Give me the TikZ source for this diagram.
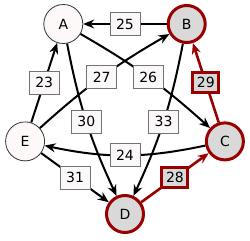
\documentclass[tikz,border=0pt]{standalone}
\usepackage{fontspec}
\setmainfont{DejaVu Sans}
\usepackage{xcolor}
\usepackage{tikz}
\usetikzlibrary{arrows.meta}

\definecolor{pathred}{HTML}{990000}
\definecolor{hitgray}{HTML}{D9D9D9}
\definecolor{plainfill}{HTML}{FDF9F9}
\definecolor{boxfill}{HTML}{FAF8F8}

\begin{document}
\begin{tikzpicture}[
  x=1pt,y=1pt,
  font=\fontsize{14}{16}\selectfont,
  plain/.style={circle,draw=black!80,line width=0.8pt,fill=plainfill,
                minimum size=39pt,inner sep=0pt},
  hit/.style={circle,draw=pathred,line width=3pt,fill=hitgray,
              minimum size=37pt,inner sep=0pt},
  wt/.style={draw=black!55,line width=0.8pt,fill=boxfill,minimum width=30pt,
             minimum height=23pt,inner sep=0pt},
  hwt/.style={draw=pathred,line width=3pt,fill=hitgray,minimum width=26pt,
              minimum height=20pt,inner sep=0pt},
  arr/.style={-{Stealth[length=11pt,width=9pt]},line width=2pt},
  harr/.style={arr,draw=pathred,line width=2.6pt}
]
\useasboundingbox (0,0) rectangle (250,-241);

% Vertices on a pentagon.
\node[plain] (A) at (63.3,-24)   {A};
\node[hit]   (B) at (186.7,-24)  {B};
\node[hit]   (C) at (224.9,-141.4) {C};
\node[hit]   (D) at (125,-214)   {D};
\node[plain] (E) at (25.1,-141.4) {E};

% Edges (weights go on top afterwards).
\draw[arr]  (B) -- coordinate[midway] (m25) (A);
\draw[arr]  (E) -- coordinate[midway] (m23) (A);
\draw[arr]  (A) to[bend left=6]  coordinate[midway] (m26) (C);
\draw[arr]  (E) to[bend left=6]  coordinate[midway] (m27) (B);
\draw[arr]  (A) to[bend right=7] coordinate[midway] (m30) (D);
\draw[arr]  (B) to[bend left=7]  coordinate[midway] (m33) (D);
\draw[arr]  (C) to[bend left=12] coordinate[midway] (m24) (E);
\draw[arr]  (E) -- coordinate[midway] (m31) (D);
\draw[harr] (D) -- coordinate[midway] (m28) (C);
\draw[harr] (C) -- coordinate[midway] (m29) (B);

% Weights.
\node[wt]  (w25) at (m25) {25};
\node[wt]  (w23) at (m23) {23};
\node[wt]  (w26) at (m26) {26};
\node[wt]  (w27) at (m27) {27};
\node[wt]  (w30) at (m30) {30};
\node[wt]  (w33) at (m33) {33};
\node[wt]  (w24) at (m24) {24};
\node[wt]  (w31) at (m31) {31};
\node[hwt] (w28) at (m28) {28};
\node[hwt] (w29) at (m29) {29};
\end{tikzpicture}
\end{document}
